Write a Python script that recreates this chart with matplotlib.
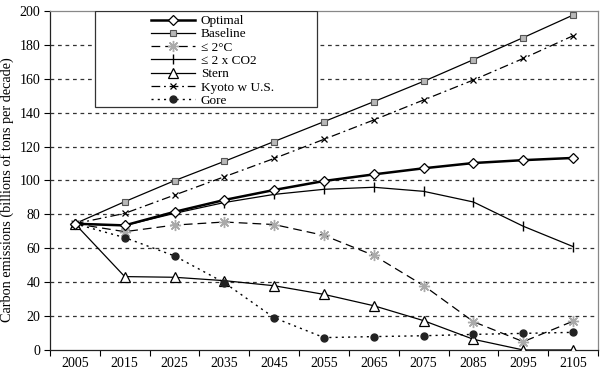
import matplotlib
matplotlib.use("Agg")
import matplotlib.pyplot as plt
from matplotlib.patches import Rectangle

years = [2005, 2015, 2025, 2035, 2045, 2055, 2065, 2075, 2085, 2095, 2105]
optimal = [74.5, 73.5, 81.5, 88.5, 94.4, 99.7, 103.6, 107.2, 110.3, 112, 113.3]
baseline = [74.5, 87.5, 99.9, 111.3, 123, 134.7, 146.5, 158.5, 171.3, 184.3, 197.6]
two_deg = [74.5, 69.8, 73.7, 75.5, 74, 67.6, 55.8, 38, 16.7, 4.9, 17]
two_co2 = [74.5, 73.5, 80.6, 87, 91.8, 94.8, 96, 93.6, 87.3, 73, 61]
stern = [74.5, 43.3, 42.9, 40.9, 37.9, 32.8, 26.1, 17.3, 6.3, 0, 0]
kyoto = [74.5, 80.6, 91.4, 102.2, 113, 124.3, 135.7, 147.5, 159.3, 172, 185.4]
gore = [74.5, 66.3, 55.5, 39.7, 19, 7.3, 7.9, 8.4, 9.2, 9.8, 10.4]

plt.rcParams['font.family'] = ['Liberation Serif', 'DejaVu Serif']

fig = plt.figure(figsize=(6, 3.75), dpi=100)
ax = fig.add_axes([0.0833, 0.0667, 0.9134, 0.904])

h = []
h += ax.plot(years, optimal, color='black', lw=1.8, marker='D', ms=5.5,
             mfc='white', mec='black', mew=0.9, label='Optimal', zorder=6)
h += ax.plot(years, baseline, color='black', lw=0.9, marker='s', ms=5,
             mfc='#b8b8b8', mec='#555555', mew=0.8, label='Baseline', zorder=5)
h += ax.plot(years, two_deg, color='black', lw=0.9, ls=(0, (7, 4)), marker=(8, 2, 0),
             ms=8, mec='#aaaaaa', mew=1.0, label='≤ 2°C', zorder=5)
h += ax.plot(years, two_co2, color='black', lw=0.9, marker='|', ms=7.5, mew=1.0,
             label='≤ 2 x CO2', zorder=5)
h += ax.plot(years, stern, color='black', lw=0.9, marker='^', ms=6.5,
             mfc='white', mec='black', mew=0.9, label='Stern', zorder=5)
h += ax.plot(years, kyoto, color='black', lw=0.9, ls=(0, (7, 3, 1.5, 3)), marker='x',
             ms=4.5, mew=0.9, label='Kyoto w U.S.', zorder=5)
h += ax.plot(years, gore, color='black', lw=1.0, ls=(0, (1.5, 3)), marker='o',
             ms=5, mfc='#222222', mec='#222222', label='Gore', zorder=5)

ax.set_xlim(2000, 2110)
ax.set_ylim(0, 200)
ax.set_yticks(range(0, 201, 20))
ax.set_xticks(range(2000, 2111, 10))
ax.set_xticklabels([])
ax.set_xticks(years, minor=True)
ax.set_xticklabels([str(y) for y in years], minor=True)
ax.tick_params(axis='x', which='minor', length=0, pad=5, labelsize=10)
ax.tick_params(axis='x', which='major', length=4, direction='out', width=0.8)
ax.tick_params(axis='y', length=4, direction='out', width=0.8, labelsize=10, pad=3)

for v in range(20, 200, 20):
    ax.axhline(v, color='#333333', lw=0.9, ls=(0, (3, 3)), zorder=1)

for s in ['left', 'bottom']:
    ax.spines[s].set_color('#222222')
    ax.spines[s].set_linewidth(0.9)
for s in ['top', 'right']:
    ax.spines[s].set_color('#888888')
    ax.spines[s].set_linewidth(0.9)

ax.set_ylabel('Carbon emissions (billions of tons per decade)', fontsize=10.3)
ax.yaxis.set_label_coords(-0.066, 0.472)

# legend frame
ax.add_patch(Rectangle((0.082, 0.717), 0.405, 0.283, transform=ax.transAxes,
                       facecolor='white', edgecolor='#333333', lw=0.9, zorder=8))
leg = ax.legend(handles=h, loc='upper left', bbox_to_anchor=(0.175, 1.004),
                frameon=False, fontsize=9.5, handlelength=3.3, handletextpad=0.45,
                labelspacing=0.08, numpoints=1, borderaxespad=0)
leg.set_zorder(9)

fig.savefig('out.png', dpi=100)
